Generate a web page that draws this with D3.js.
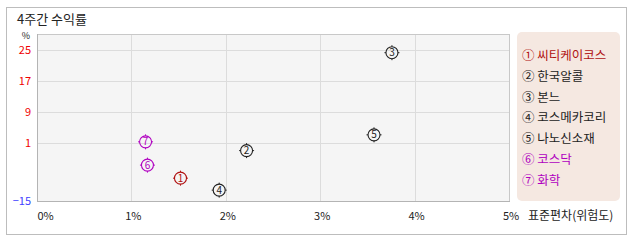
<!DOCTYPE html>
<html>
<head>
<meta charset="utf-8">
<script src="https://cdn.jsdelivr.net/npm/d3@7"></script>
<style>
  body { margin: 0; background: #fff; }
  text { font-family: "Noto Sans CJK KR", "Noto Sans", sans-serif; }
</style>
</head>
<body>
<div id="chart"></div>
<script>
// data
var names = ["씨티케이코스", "한국알콜", "본느", "코스메카코리", "나노신소재", "코스닥", "화학"];
var marks = ["①", "②", "③", "④", "⑤", "⑥", "⑦"];
var risk = [1.52, 2.22, 3.76, 1.93, 3.57, 1.17, 1.15];     // 표준편차 %
var returns = [-8.7, -1.1, 24.2, -12.0, 3.1, -5.1, 1.3];   // 4주간 수익률 %
var colors = ["#b01010", "#222", "#222", "#222", "#222", "#b000c0", "#b000c0"];
var xTicks = [0, 1, 2, 3, 4, 5];
var yTicks = [25, 17, 9, 1];
var yMinLabel = -15;

var width = 638, height = 242;
var plotL = 37, plotT = 34, plotR = 509, plotB = 201;

var svg = d3.select("#chart").append("svg")
  .attr("width", width)
  .attr("height", height);

// outer frame
svg.append("rect")
  .attr("x", 6.5).attr("y", 7.5)
  .attr("width", 620).attr("height", 227)
  .attr("fill", "#fff")
  .attr("stroke", "#bdbdbd");

svg.append("text")
  .attr("x", 17).attr("y", 24)
  .attr("font-size", 13)
  .attr("fill", "#222")
  .text("4주간 수익률");

var x = d3.scaleLinear().domain([0, 5]).range([plotL, plotR]);
// the bottom label (-15) sits on the axis floor, the axis below 1 is squeezed
var y = d3.scaleLinear().domain([yMinLabel, 1, 29]).range([plotB, 143, plotT]);

svg.append("rect")
  .attr("x", plotL).attr("y", plotT)
  .attr("width", plotR - plotL).attr("height", plotB - plotT)
  .attr("fill", "#f5f5f5");

var grid = svg.append("g").attr("stroke", "#dcdcdc").attr("shape-rendering", "crispEdges");
grid.selectAll("line.v")
  .data(xTicks.slice(1))
  .enter().append("line")
  .attr("x1", function(d) { return Math.round(x(d)) + 0.5; })
  .attr("x2", function(d) { return Math.round(x(d)) + 0.5; })
  .attr("y1", plotT).attr("y2", plotB);
grid.selectAll("line.h")
  .data(yTicks)
  .enter().append("line")
  .attr("y1", function(d) { return Math.round(y(d)) + 0.5; })
  .attr("y2", function(d) { return Math.round(y(d)) + 0.5; })
  .attr("x1", plotL).attr("x2", plotR);

// plot border
svg.append("rect")
  .attr("x", plotL + 0.5).attr("y", plotT + 0.5)
  .attr("width", plotR - plotL).attr("height", plotB - plotT)
  .attr("fill", "none")
  .attr("stroke", "#c8c8c8")
  .attr("shape-rendering", "crispEdges");
svg.append("path")
  .attr("d", "M" + (plotL + 0.5) + "," + plotT + "V" + (plotB + 0.5) + "H" + (plotR + 0.5))
  .attr("fill", "none")
  .attr("stroke", "#b4b4b4")
  .attr("shape-rendering", "crispEdges");

// y labels
svg.append("text")
  .attr("x", 26).attr("y", 39)
  .attr("text-anchor", "middle")
  .attr("font-size", 9)
  .attr("fill", "#222")
  .text("%");
svg.selectAll("text.ylab")
  .data(yTicks)
  .enter().append("text")
  .attr("class", "ylab")
  .attr("x", 31)
  .attr("y", function(d) { return y(d) + 4; })
  .attr("text-anchor", "end")
  .attr("font-size", 11)
  .attr("fill", "#f00000")
  .text(function(d) { return d; });
svg.append("text")
  .attr("x", 31).attr("y", y(yMinLabel) + 4)
  .attr("text-anchor", "end")
  .attr("font-size", 11)
  .attr("fill", "#4040ff")
  .text("\u2212" + Math.abs(yMinLabel));

// x labels
svg.selectAll("text.xlab")
  .data(xTicks)
  .enter().append("text")
  .attr("class", "xlab")
  .attr("x", function(d) { return d === 0 ? x(d) + 0.5 : x(d) + 2; })
  .attr("y", 220)
  .attr("text-anchor", function(d) { return d === 0 ? "start" : "middle"; })
  .attr("font-size", 11)
  .attr("fill", "#222")
  .text(function(d) { return d + "%"; });
svg.append("text")
  .attr("x", 528).attr("y", 220)
  .attr("font-size", 12)
  .attr("fill", "#222")
  .text("표준편차(위험도)");

// points
var pts = svg.selectAll("g.pt")
  .data(names)
  .enter().append("g")
  .attr("class", "pt")
  .attr("transform", function(d, i) {
    return "translate(" + x(risk[i]) + "," + y(returns[i]) + ")";
  });
pts.append("circle")
  .attr("r", 6)
  .attr("fill", "none")
  .attr("stroke", function(d, i) { return colors[i]; })
  .attr("stroke-width", 1.1);
pts.append("path")
  .attr("d", "M0,-6V-7.5M0,6V7.5M-6,0H-7.5M6,0H7.5")
  .attr("stroke", function(d, i) { return colors[i]; })
  .attr("stroke-width", 1);
pts.append("text")
  .attr("y", 3.5)
  .attr("text-anchor", "middle")
  .attr("font-size", 10)
  .attr("fill", function(d, i) { return colors[i]; })
  .text(function(d, i) { return i + 1; });

// legend
svg.append("rect")
  .attr("x", 517).attr("y", 32)
  .attr("width", 103).attr("height", 169)
  .attr("rx", 5)
  .attr("fill", "#f5e8e1");
svg.selectAll("text.leg")
  .data(names)
  .enter().append("text")
  .attr("class", "leg")
  .attr("x", 522)
  .attr("y", function(d, i) { return 60 + i * 20.8; })
  .attr("font-size", 12.5)
  .attr("fill", function(d, i) { return colors[i]; })
  .text(function(d, i) { return marks[i] + " " + d; });
</script>
</body>
</html>
